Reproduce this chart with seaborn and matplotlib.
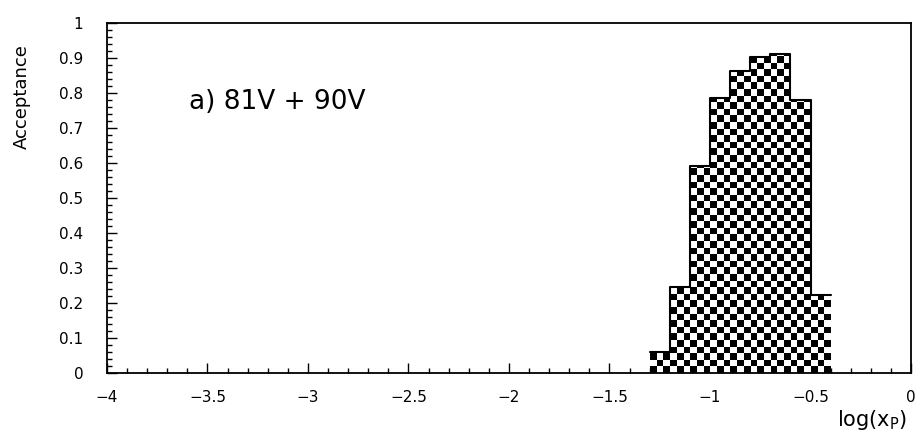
import numpy as np
import seaborn as sns
import matplotlib.pyplot as plt
from matplotlib.ticker import MultipleLocator
from matplotlib.path import Path
from matplotlib.patches import PathPatch

# histogram bins in log(x_P) and acceptance per bin
bin_edges = [-1.3, -1.2, -1.1, -1.0, -0.9, -0.8, -0.7, -0.6, -0.5, -0.4]
acceptance = [0.06, 0.245, 0.59, 0.785, 0.863, 0.903, 0.91, 0.78, 0.222]
bin_centers = [(a + b) / 2 for a, b in zip(bin_edges[:-1], bin_edges[1:])]

x_ticks = [-4, -3.5, -3, -2.5, -2, -1.5, -1, -0.5, 0]
x_tick_labels = ['\u22124', '\u22123.5', '\u22123', '\u22122.5', '\u22122',
                 '\u22121.5', '\u22121', '\u22120.5', '0']
y_ticks = [0, 0.1, 0.2, 0.3, 0.4, 0.5, 0.6, 0.7, 0.8, 0.9, 1]
y_tick_labels = ['0', '0.1', '0.2', '0.3', '0.4', '0.5', '0.6', '0.7', '0.8', '0.9', '1']

sns.set_style('white')
plt.rcParams['font.family'] = ['DejaVu Sans']
plt.rcParams['text.color'] = 'black'
plt.rcParams['axes.labelcolor'] = 'black'
plt.rcParams['xtick.color'] = 'black'
plt.rcParams['ytick.color'] = 'black'

fig = plt.figure(figsize=(9.19, 4.37), dpi=100)
ax = fig.add_axes([0.1164, 0.1465, 0.8749, 0.8009])

sns.histplot(x=bin_centers, weights=acceptance, bins=bin_edges, element='step',
             fill=False, color='black', linewidth=1.5, ax=ax, zorder=3)

# checkerboard fill clipped to the histogram outline
verts = [(bin_edges[0], 0)]
for i, h in enumerate(acceptance):
    verts.append((bin_edges[i], h))
    verts.append((bin_edges[i + 1], h))
verts.append((bin_edges[-1], 0))
verts.append((bin_edges[0], 0))
clip = PathPatch(Path(verts, closed=True), transform=ax.transData,
                 facecolor='none', edgecolor='none')
ax.add_patch(clip)
nx, ny = 27, 53
board = (np.add.outer(np.arange(ny), np.arange(nx)) % 2).astype(float)
im = ax.imshow(board, cmap='gray', extent=[bin_edges[0], bin_edges[-1], 0, 1],
               origin='lower', aspect='auto', interpolation='nearest', zorder=2)
im.set_clip_path(clip)

ax.set_xlim(-4, 0)
ax.set_ylim(0, 1)
ax.set_xticks(x_ticks)
ax.set_xticklabels(x_tick_labels)
ax.set_yticks(y_ticks)
ax.set_yticklabels(y_tick_labels)
ax.xaxis.set_minor_locator(MultipleLocator(0.1))
ax.yaxis.set_minor_locator(MultipleLocator(0.02))
ax.tick_params(which='both', direction='in', top=False, right=False,
               bottom=True, left=True, labelsize=11, width=1)
ax.tick_params(which='major', length=7)
ax.tick_params(axis='x', which='major', pad=12)
ax.tick_params(axis='y', which='major', pad=17)
ax.tick_params(which='minor', length=3.5)
for s in ax.spines.values():
    s.set_color('black')
    s.set_linewidth(1.3)

ax.set_ylabel('Acceptance', fontsize=13)
ax.yaxis.set_label_coords(-0.095, 0.79)
ax.set_xlabel('log(x$_\\mathrm{P}$)', fontsize=15, ha='right', va='center')
ax.xaxis.set_label_coords(0.995, -0.135)

ax.text(-3.59, 0.775, 'a) 81V + 90V', fontsize=19, va='center', ha='left')

fig.savefig('out.png', dpi=100)
